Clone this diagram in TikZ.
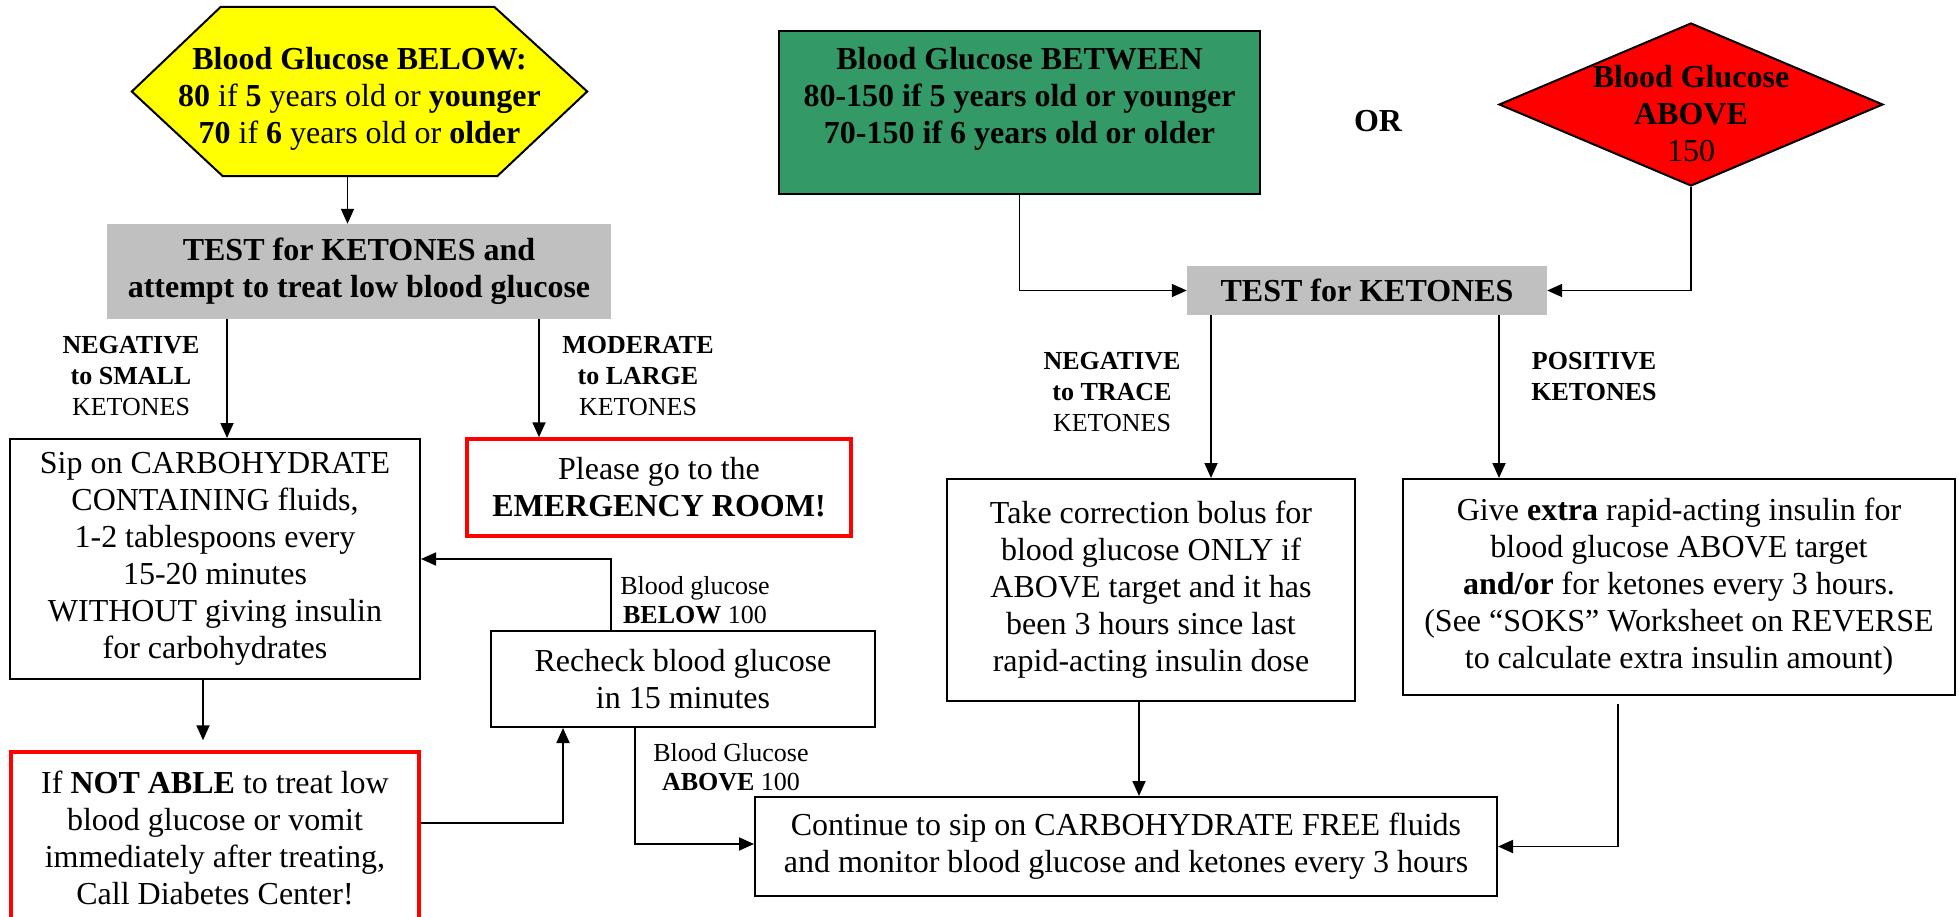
\documentclass[tikz,border=0pt]{standalone}
\usepackage{fontspec}
\setmainfont{LiberationSerif}[Extension=.ttf,UprightFont=*-Regular,BoldFont=*-Bold,ItalicFont=*-Italic,BoldItalicFont=*-BoldItalic]
\usetikzlibrary{positioning,shapes.geometric,arrows.meta}

\definecolor{hexyellow}{RGB}{255,255,0}
\definecolor{okgreen}{RGB}{51,153,102}
\definecolor{alertred}{RGB}{255,0,0}
\definecolor{testgray}{RGB}{192,192,192}

\newcommand{\boxfont}{\fontsize{32}{37}\selectfont}
\newcommand{\ketfont}{\fontsize{26}{31}\selectfont}
\newcommand{\bgfont}{\fontsize{26}{29.5}\selectfont}

\begin{document}
\begin{tikzpicture}
  [x=1pt,y=-1pt,
   every node/.style={align=center,inner sep=0pt,font=\boxfont},
   plain/.style={rectangle,draw,line width=2pt},
   alert/.style={rectangle,draw=alertred,line width=3.5pt},
   testbox/.style={rectangle,fill=testgray,font=\boxfont\bfseries},
   headtext/.style={font=\boxfont\bfseries},
   ketlabel/.style={font=\ketfont},
   bglabel/.style={font=\bgfont},
   arr/.style={line width=1.8pt,-{Triangle[length=15pt,width=13pt]}}]
  \useasboundingbox (0,0) rectangle (1959,917);

  \node[minimum width=455pt,minimum height=169pt] (below) at (359.5,91.5) {};
  \draw[fill=hexyellow,line width=2pt] (below.west) -- ([xshift=89pt]below.north west)
    -- ([xshift=-93pt]below.north east) -- (below.east)
    -- ([xshift=-90pt]below.south east) -- ([xshift=91pt]below.south west) -- cycle;
  \node (belowtext) at (359.5,98.5) {\textbf{Blood Glucose BELOW:}\\
    \textbf{80} if \textbf{5} years old or \textbf{younger}\\
    \textbf{70} if \textbf{6} years old or \textbf{older}};

  \node[plain,fill=okgreen,minimum width=481pt,minimum height=163pt] (between) at (1019.5,112.5) {};
  \node[headtext] (betweentext) at (1019.5,99) {Blood Glucose BETWEEN\\
    80-150 if 5 years old or younger\\70-150 if 6 years old or older};
  \node[headtext] (orlabel) at (1378,121) {OR};
  \node[diamond,draw,fill=alertred,line width=2pt,minimum width=384pt,minimum height=163pt] (above) at (1691,104.5) {};
  \node (abovetext) at (1691,113.5) {\textbf{Blood Glucose}\\\textbf{ABOVE}\\150};

  \node[testbox,minimum width=504pt,minimum height=95pt] (test1) at (359,271.5)
    {TEST for KETONES and\\attempt to treat low blood glucose};
  \node[testbox,minimum width=360pt,minimum height=49pt] (test2) at (1367,290.5) {TEST for KETONES};

  \node[plain,minimum width=410pt,minimum height=240pt] (sip) at (215,559)
    {Sip on CARBOHYDRATE\\CONTAINING fluids,\\1-2 tablespoons every\\15-20 minutes\\
     WITHOUT giving insulin\\for carbohydrates};
  \node[alert,minimum width=384pt,minimum height=97pt] (er) at (659,487.5)
    {Please go to the\\\textbf{EMERGENCY ROOM!}};
  \node[plain,minimum width=384pt,minimum height=96pt] (recheck) at (683,679)
    {Recheck blood glucose\\in 15 minutes};
  \node[alert,minimum width=408pt,minimum height=171pt] (notable) at (215,837.5)
    {If \textbf{NOT ABLE} to treat low\\blood glucose or vomit\\immediately after treating,\\
     Call Diabetes Center!};
  \node[plain,minimum width=408pt,minimum height=222pt] (take) at (1151,590)
    {Take correction bolus for\\blood glucose ONLY if\\ABOVE target and it has\\
     been 3 hours since last\\rapid-acting insulin dose};
  \node[plain,minimum width=552pt,minimum height=216pt] (give) at (1679,587)
    {Give \textbf{extra} rapid-acting insulin for\\blood glucose ABOVE target\\
     \textbf{and/or} for ketones every 3 hours.\\(See “SOKS” Worksheet on REVERSE\\
     to calculate extra insulin amount)};
  \node[plain,minimum width=742pt,minimum height=99pt] (cont) at (1126,846.5)
    {Continue to sip on CARBOHYDRATE FREE fluids\\and monitor blood glucose and ketones every 3 hours};

  \node[ketlabel] (negsmall) at (131,376) {\textbf{NEGATIVE}\\\textbf{to SMALL}\\KETONES};
  \node[ketlabel] (modlarge) at (638,376) {\textbf{MODERATE}\\\textbf{to LARGE}\\KETONES};
  \node[ketlabel] (negtrace) at (1112,392) {\textbf{NEGATIVE}\\\textbf{to TRACE}\\KETONES};
  \node[ketlabel] (positive) at (1594,377) {\textbf{POSITIVE}\\\textbf{KETONES}};
  \node[bglabel] (bgbelow) at (695,600) {Blood glucose\\\textbf{BELOW} 100};
  \node[bglabel] (bgabove) at (731,767) {Blood Glucose\\\textbf{ABOVE} 100};

  \draw[arr] ([xshift=-12pt]below.south) -- ([xshift=-12pt]below.south |- test1.north);
  \draw[arr] ([xshift=-132pt]test1.south) -- ([xshift=-132pt]test1.south |- sip.north);
  \draw[arr] ([xshift=180pt]test1.south) -- ([xshift=180pt]test1.south |- er.north);
  \draw[arr,shorten >=10pt] ([xshift=-12pt]sip.south) -- ([xshift=-12pt]sip.south |- notable.north);
  \draw[arr] ([xshift=-72pt]recheck.north) |- (sip.east);
  \draw[arr] ([yshift=14.5pt]notable.east) -| ([xshift=-120pt]recheck.south);
  \draw[arr] ([xshift=-48pt]recheck.south) |- ([yshift=2.5pt]cont.west);
  \draw[arr] (between.south) |- (test2.west);
  \draw[arr] (above.south) |- (test2.east);
  \draw[arr] ([xshift=-156pt]test2.south) -- ([xshift=-156pt]test2.south |- take.north);
  \draw[arr] ([xshift=132pt]test2.south) -- ([xshift=132pt]test2.south |- give.north);
  \draw[arr] ([xshift=-12pt]take.south) -- ([xshift=-12pt]take.south |- cont.north);
  \draw[arr,shorten <=8pt] ([xshift=-61pt]give.south) |- (cont.east);
\end{tikzpicture}
\end{document}
